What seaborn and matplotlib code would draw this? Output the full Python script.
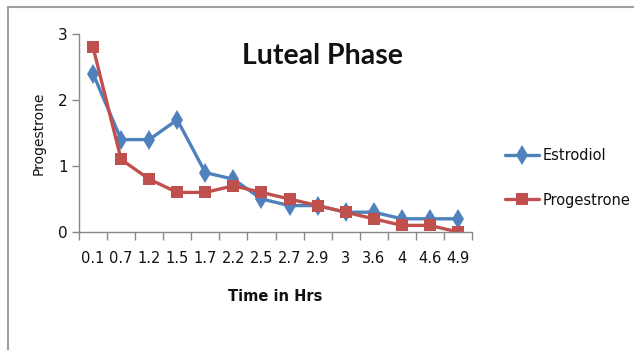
import matplotlib
matplotlib.use("Agg")
import matplotlib.pyplot as plt
from matplotlib.lines import Line2D
import seaborn as sns
import pandas as pd

# Sampling times (hours) and hormone levels
times = ["0.1", "0.7", "1.2", "1.5", "1.7", "2.2", "2.5", "2.7", "2.9", "3", "3.6", "4", "4.6", "4.9"]
estrodiol = [2.4, 1.4, 1.4, 1.7, 0.9, 0.8, 0.5, 0.4, 0.4, 0.3, 0.3, 0.2, 0.2, 0.2]
progestrone = [2.8, 1.1, 0.8, 0.6, 0.6, 0.7, 0.6, 0.5, 0.4, 0.3, 0.2, 0.1, 0.1, 0.0]
series_names = ["Estrodiol", "Progestrone"]

blue = "#4F81BD"
red = "#C0504D"
ink = "#111111"

sns.set_theme(style="white")
plt.rcParams["font.family"] = ["DejaVu Sans"]
plt.rcParams["text.color"] = ink
plt.rcParams["axes.labelcolor"] = ink
plt.rcParams["xtick.labelcolor"] = ink
plt.rcParams["ytick.labelcolor"] = ink

pos = list(range(len(times)))
df = pd.DataFrame({
    "pos": pos * 2,
    "value": estrodiol + progestrone,
    "series": [series_names[0]] * len(times) + [series_names[1]] * len(times),
})

fig = plt.figure(figsize=(6.34, 3.5), dpi=100)
ax = fig.add_axes([79 / 634, 1 - 232 / 350, (472 - 79) / 634, (232 - 34) / 350])

sns.lineplot(
    data=df, x="pos", y="value", hue="series", style="series",
    palette={series_names[0]: blue, series_names[1]: red},
    markers={series_names[0]: "D", series_names[1]: "s"},
    dashes=False, linewidth=2.4, markersize=8, markeredgewidth=0,
    ax=ax, legend=False,
)
# Narrower, taller diamonds
for line in ax.lines:
    if line.get_marker() == "D":
        line.set_marker("d")
        line.set_markersize(10)

ax.set_xlim(-0.5, len(times) - 0.5)
ax.set_ylim(0, 3)
ax.set_yticks([0, 1, 2, 3])
ax.set_yticklabels(["0", "1", "2", "3"])
ax.set_xticks(pos)
ax.set_xticklabels(times)
ax.set_xticks([p - 0.5 for p in pos] + [len(times) - 0.5], minor=True)
ax.tick_params(axis="x", which="major", length=0, pad=14, labelsize=10.5)
ax.tick_params(axis="x", which="minor", length=6, width=1, color="#888888", bottom=True)
ax.tick_params(axis="y", which="major", length=5, width=1, color="#888888", left=True, labelsize=11, pad=3)

for side in ["top", "right"]:
    ax.spines[side].set_visible(False)
for side in ["left", "bottom"]:
    ax.spines[side].set_color("#888888")
    ax.spines[side].set_linewidth(1)

ax.set_xlabel("Time in Hrs", fontsize=10.5, fontweight="bold", labelpad=16)
ax.set_ylabel("Progestrone", fontsize=10, labelpad=9)

fig.text(322 / 634, 1 - 56 / 350, "Luteal Phase", ha="center", va="center",
         fontsize=20.5, fontweight="bold", family="Lato")

handles = [
    Line2D([0], [0], color=blue, lw=2.4, marker="d", markersize=10, markeredgewidth=0),
    Line2D([0], [0], color=red, lw=2.4, marker="s", markersize=9, markeredgewidth=0),
]
fig.legend(handles, series_names, loc="center left", bbox_to_anchor=(492 / 634, 1 - 178 / 350),
           frameon=False, fontsize=10.5, handlelength=2.3, labelspacing=2.0, handletextpad=0.3)

# Outer chart frame (left and top edges)
fig.add_artist(Line2D([8 / 634, 8 / 634], [0, 1 - 7 / 350], color="#a0a0a0", lw=1.5, transform=fig.transFigure))
fig.add_artist(Line2D([8 / 634, 1], [1 - 7 / 350, 1 - 7 / 350], color="#a0a0a0", lw=1.5, transform=fig.transFigure))

fig.savefig("out.png", dpi=100)
